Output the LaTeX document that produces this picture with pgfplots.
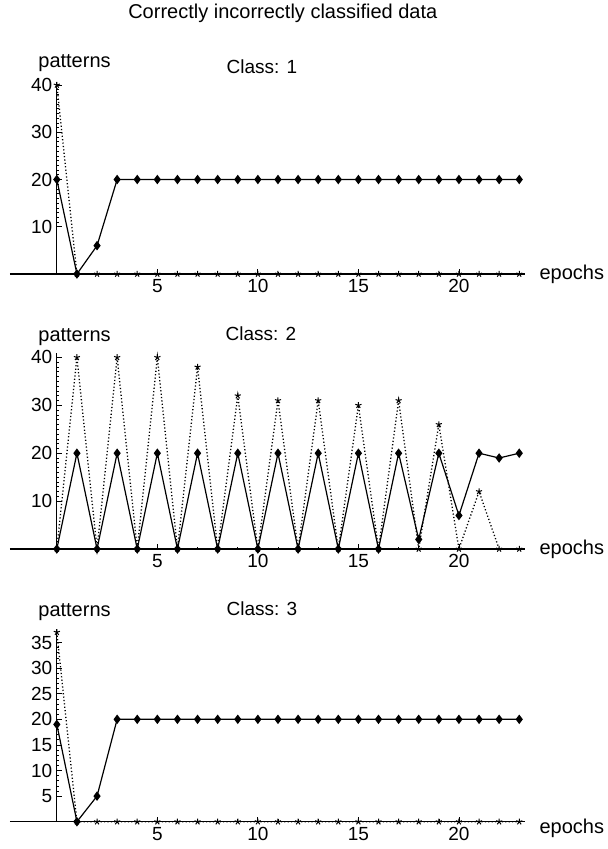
\documentclass[border=0pt]{standalone}
\usepackage{fontspec}
\setmainfont{Liberation Sans}
\usepackage{pgfplots}
\pgfplotsset{compat=1.18}
\begin{document}
\pgfplotsset{
  panel/.style={
    scale only axis, axis lines=middle, clip=false,
    axis line style={-, line width=1.2pt},
    xmin=-2.34, xmax=23.3, ymin=0,
    width=515.5pt,
    xtick={5,10,15,20},
    minor x tick num=4,
    tick align=inside,
    major tick length=5pt, minor tick length=2.5pt,
    every tick/.style={black, line width=0.8pt},
    every minor tick/.style={black, line width=0.6pt},
    /pgf/number format/assume math mode=true,
    tick label style={font=\fontsize{19}{21}\selectfont},
    xticklabel style={anchor=north, yshift=-2pt},
    yticklabel style={anchor=east, xshift=-1pt},
    xlabel={epochs},
    xlabel style={at={(axis cs:24.0,0)}, anchor=west, inner sep=0pt, font=\fontsize{20}{24}\selectfont},
  },
  solidser/.style={black, line width=1.2pt, mark=diamond*, mark size=3.8pt},
  dotser/.style={black, line width=1.3pt, dash pattern=on 1.2pt off 2.2pt, mark=star, mark size=3.2pt, mark options={solid, line width=1pt}},
}
\begin{tikzpicture}
\path[use as bounding box] (0pt,0pt) rectangle (605pt,-849pt);
\node[font=\fontsize{20}{24}\selectfont] at (280pt,-13pt) {Correctly incorrectly classified data};

% Panel 1
\begin{axis}[panel, at={(7pt,-274pt)}, anchor=south west,
  ymax=40.6, height=191.8pt,
  ytick={10,20,30,40}, minor y tick num=9]
\addplot[dotser] coordinates {(0,40) (1,0) (2,0) (3,0) (4,0) (5,0) (6,0) (7,0) (8,0) (9,0) (10,0) (11,0) (12,0) (13,0) (14,0) (15,0) (16,0) (17,0) (18,0) (19,0) (20,0) (21,0) (22,0) (23,0)};
\addplot[solidser] coordinates {(0,20) (1,0) (2,6) (3,20) (4,20) (5,20) (6,20) (7,20) (8,20) (9,20) (10,20) (11,20) (12,20) (13,20) (14,20) (15,20) (16,20) (17,20) (18,20) (19,20) (20,20) (21,20) (22,20) (23,20)};
\node[font=\fontsize{20}{24}\selectfont] at (axis cs:0.88,44.7) {patterns};
\node[font=\fontsize{19}{22}\selectfont] at (axis cs:10.2,43.9) {Class: 1};
\end{axis}

% Panel 2
\begin{axis}[panel, at={(7pt,-549pt)}, anchor=south west,
  ymax=40.9, height=195.9pt,
  ytick={10,20,30,40}, minor y tick num=9]
\addplot[dotser] coordinates {(0,0) (1,40) (2,0) (3,40) (4,0) (5,40) (6,0) (7,38) (8,0) (9,32) (10,0) (11,31) (12,0) (13,31) (14,0) (15,30) (16,0) (17,31) (18,0) (19,26) (20,0) (21,12) (22,0) (23,0)};
\addplot[solidser] coordinates {(0,0) (1,20) (2,0) (3,20) (4,0) (5,20) (6,0) (7,20) (8,0) (9,20) (10,0) (11,20) (12,0) (13,20) (14,0) (15,20) (16,0) (17,20) (18,2) (19,20) (20,7) (21,20) (22,19) (23,20)};
\node[font=\fontsize{20}{24}\selectfont] at (axis cs:0.88,44.3) {patterns};
\node[font=\fontsize{19}{22}\selectfont] at (axis cs:10.15,44.9) {Class: 2};
\end{axis}

% Panel 3
\begin{axis}[panel, at={(7pt,-821.7pt)}, anchor=south west,
  ymax=37.6, height=192.5pt,
  ytick={5,10,15,20,25,30,35}, minor y tick num=4,
  xlabel style={at={(axis cs:24.0,-1.3)}}]
\addplot[dotser] coordinates {(0,37) (1,0) (2,0) (3,0) (4,0) (5,0) (6,0) (7,0) (8,0) (9,0) (10,0) (11,0) (12,0) (13,0) (14,0) (15,0) (16,0) (17,0) (18,0) (19,0) (20,0) (21,0) (22,0) (23,0)};
\addplot[solidser] coordinates {(0,19) (1,0) (2,5) (3,20) (4,20) (5,20) (6,20) (7,20) (8,20) (9,20) (10,20) (11,20) (12,20) (13,20) (14,20) (15,20) (16,20) (17,20) (18,20) (19,20) (20,20) (21,20) (22,20) (23,20)};
\node[font=\fontsize{20}{24}\selectfont] at (axis cs:0.88,40.9) {patterns};
\node[font=\fontsize{19}{22}\selectfont] at (axis cs:10.2,41.7) {Class: 3};
\end{axis}
\end{tikzpicture}
\end{document}
